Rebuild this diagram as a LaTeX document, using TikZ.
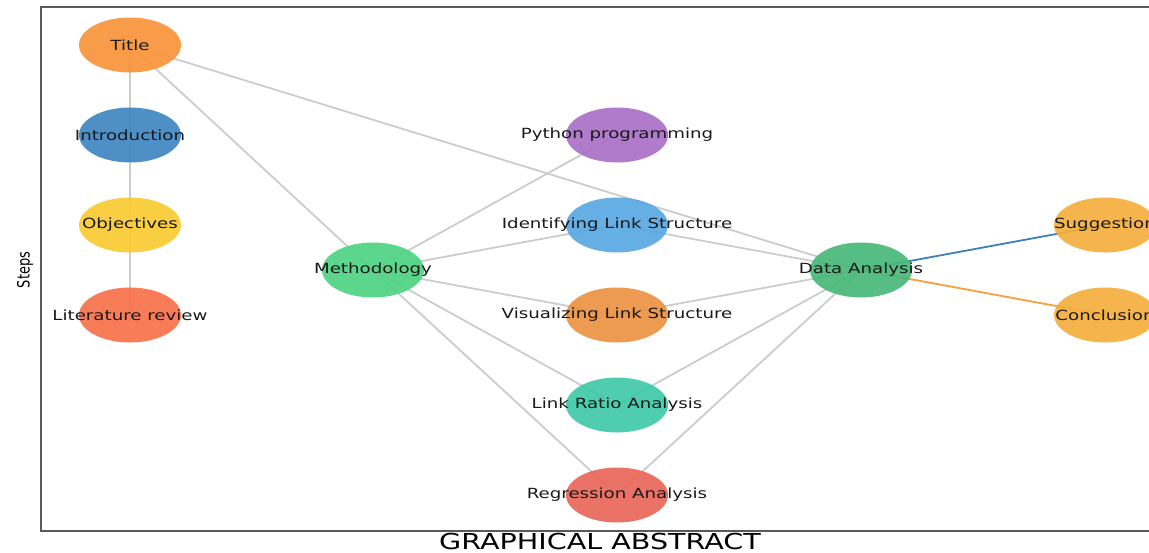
\documentclass[tikz,border=0pt]{standalone}
\usepackage{fontspec}
\setmainfont{DejaVu Sans}
\usetikzlibrary{shapes.geometric,backgrounds}

\definecolor{cTitle}{HTML}{F8943A}
\definecolor{cIntro}{HTML}{3F86C1}
\definecolor{cObj}{HTML}{F9CA31}
\definecolor{cLit}{HTML}{F8714A}
\definecolor{cMeth}{HTML}{4ED383}
\definecolor{cPy}{HTML}{A970C5}
\definecolor{cIdent}{HTML}{58A8E2}
\definecolor{cVis}{HTML}{EC9242}
\definecolor{cRatio}{HTML}{3FC9A8}
\definecolor{cReg}{HTML}{E9665A}
\definecolor{cData}{HTML}{48B978}
\definecolor{cEnd}{HTML}{F4AE3D}
\definecolor{cEdgeBlue}{HTML}{3F80B6}
\definecolor{cEdgeOrange}{HTML}{F5A13F}

\tikzset{
  stage/.style={ellipse,minimum width=51pt,minimum height=27.5pt,inner sep=0pt,
    fill opacity=0.92,text opacity=1,text=black!90,font=\fontsize{7}{8}\selectfont},
  link/.style={draw=black!20,line width=0.9pt},
}
\newcommand{\steplabel}[1]{\makebox[0pt]{\raisebox{-0.6pt}{\scalebox{1.3}[1]{#1}}}}

\begin{document}
\begin{tikzpicture}[x=0.5pt,y=-0.5pt]
	\useasboundingbox (0,0) rectangle (1149,552);
	% frame of the axes
	\draw[black!65,line width=1pt] (1160,7) -- (41,7) -- (41,531) -- (1160,531);

	\node[stage,fill=cTitle] (title) at (130,45) {\steplabel{Title}};
	\node[stage,fill=cIntro] (intro) at (130,135) {\steplabel{Introduction}};
	\node[stage,fill=cObj] (obj) at (130,225) {\steplabel{Objectives}};
	\node[stage,fill=cLit] (lit) at (130,315) {\steplabel{Literature review}};
	\node[stage,fill=cMeth] (meth) at (373,270) {\steplabel{Methodology}};
	\node[stage,fill=cPy] (py) at (617,135) {\steplabel{Python programming}};
	\node[stage,fill=cIdent] (ident) at (617,225) {\steplabel{Identifying Link Structure}};
	\node[stage,fill=cVis] (vis) at (617,315) {\steplabel{Visualizing Link Structure}};
	\node[stage,fill=cRatio] (ratio) at (617,405) {\steplabel{Link Ratio Analysis}};
	\node[stage,fill=cReg] (reg) at (617,495) {\steplabel{Regression Analysis}};
	\node[stage,fill=cData] (data) at (861,270) {\steplabel{Data Analysis}};
	\node[stage,fill=cEnd] (sugg) at (1105,225) {\steplabel{Suggestion}};
	\node[stage,fill=cEnd] (concl) at (1105,315) {\steplabel{Conclusion}};

	\begin{scope}[on background layer]
	\foreach \a/\b in {title/intro,intro/obj,obj/lit,title/meth,title/data,
	    meth/py,meth/ident,meth/vis,meth/ratio,meth/reg,
	    ident/data,vis/data,ratio/data,reg/data}
	  \draw[link] (\a.center) -- (\b.center);
	\draw[link,draw=cEdgeBlue] (data.center) -- (sugg.center);
	\draw[link,draw=cEdgeOrange] (data.center) -- (concl.center);
	\end{scope}

	\node[rotate=90] (steps) at (25,270) {\scalebox{1}[1.3]{\fontsize{6.5}{8}\selectfont Steps}};
	\node (abstract) at (600,541) {\scalebox{1.3}[1]{\fontsize{11}{13}\selectfont GRAPHICAL ABSTRACT}};
\end{tikzpicture}
\end{document}
